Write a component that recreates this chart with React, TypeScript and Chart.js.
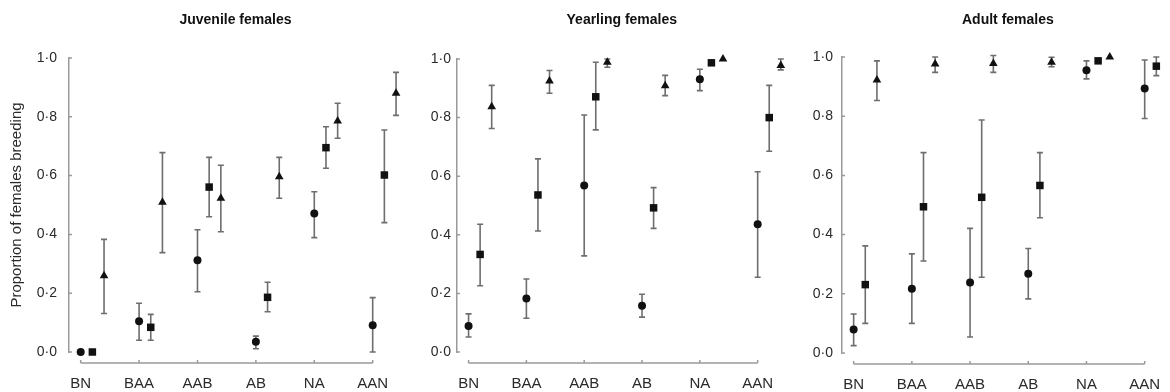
import React, { useEffect, useRef } from "react";
import { Chart, registerables } from "chart.js";

Chart.register(...registerables);

// ---------- DATA ----------
const categories = ["BN", "BAA", "AAB", "AB", "NA", "AAN"];
const panelTitles = ["Juvenile females", "Yearling females", "Adult females"];
const yTitle = "Proportion of females breeding";
const yTicks = [0, 0.2, 0.4, 0.6, 0.8, 1.0];

// Juvenile females: circle (A), square (B), triangle (C)
const juvA = [0.0, 0.105, 0.312, 0.035, 0.471, 0.091];
const juvALo = [null, 0.04, 0.205, 0.011, 0.389, 0.0];
const juvAHi = [null, 0.166, 0.416, 0.054, 0.545, 0.185];
const juvB = [0.0, 0.084, 0.561, 0.186, 0.695, 0.602];
const juvBLo = [null, 0.04, 0.46, 0.137, 0.625, 0.44];
const juvBHi = [null, 0.128, 0.662, 0.237, 0.766, 0.755];
const juvC = [0.259, 0.509, 0.523, 0.596, 0.786, 0.88];
const juvCLo = [0.131, 0.338, 0.409, 0.523, 0.727, 0.805];
const juvCHi = [0.383, 0.678, 0.635, 0.662, 0.846, 0.951];

// Yearling females
const yrlA = [0.089, 0.183, 0.568, 0.158, 0.931, 0.436];
const yrlALo = [0.051, 0.115, 0.328, 0.119, 0.892, 0.255];
const yrlAHi = [0.13, 0.249, 0.809, 0.197, 0.965, 0.615];
const yrlB = [0.333, 0.536, 0.871, 0.492, 0.987, 0.8];
const yrlBLo = [0.226, 0.413, 0.758, 0.422, null, 0.685];
const yrlBHi = [0.436, 0.659, 0.989, 0.561, null, 0.91];
const yrlC = [0.837, 0.925, 0.989, 0.909, 1.0, 0.978];
const yrlCLo = [0.763, 0.883, 0.972, 0.875, null, 0.963];
const yrlCHi = [0.91, 0.961, 1.0, 0.944, null, 1.0];

// Adult females
const adtA = [0.079, 0.217, 0.238, 0.268, 0.955, 0.894];
const adtALo = [0.025, 0.1, 0.054, 0.183, 0.926, 0.792];
const adtAHi = [0.132, 0.335, 0.421, 0.353, 0.987, 0.99];
const adtB = [0.231, 0.494, 0.526, 0.566, 0.987, 0.969];
const adtBLo = [0.1, 0.311, 0.256, 0.457, null, 0.937];
const adtBHi = [0.362, 0.677, 0.787, 0.677, null, 1.0];
const adtC = [0.922, 0.976, 0.978, 0.982, 1.0, null];
const adtCLo = [0.853, 0.948, 0.948, 0.967, null, null];
const adtCHi = [0.987, 1.0, 1.005, 0.999, null, null];

const panelSeries = [
  [
    [juvA, juvALo, juvAHi],
    [juvB, juvBLo, juvBHi],
    [juvC, juvCLo, juvCHi],
  ],
  [
    [yrlA, yrlALo, yrlAHi],
    [yrlB, yrlBLo, yrlBHi],
    [yrlC, yrlCLo, yrlCHi],
  ],
  [
    [adtA, adtALo, adtAHi],
    [adtB, adtBLo, adtBHi],
    [adtC, adtCLo, adtCHi],
  ],
];

// ---------- STYLE / LAYOUT ----------
const FONT = "'Liberation Sans', Arial, Helvetica, sans-serif";
const AXIS_COLOR = "#9a9a9a";
const ERR_COLOR = "#6e6e6e";
const MARK_COLOR = "#111";
const TEXT_COLOR = "#2a2a2a";
const markerStyles = [
  { pointStyle: "circle", radius: 4 },
  { pointStyle: "rect", radius: 5.3 },
  { pointStyle: "triangle", radius: 5 },
];
const groupOffsets = [0, 0.2, 0.4];

const layouts = [
  { left: 0, width: 412, yW: 69, tickPad: 12, titleBottom: 29.6, xH: 40, showYTitle: true },
  { left: 413, width: 384, yW: 44, tickPad: 6, titleBottom: 30.6, xH: 40, showYTitle: false },
  { left: 797, width: 387, yW: 45, tickPad: 9, titleBottom: 28.6, xH: 39, showYTitle: false },
];

const errorBarsPlugin = {
  id: "errorBars",
  beforeDatasetsDraw(chart: any) {
    const { ctx } = chart;
    const xs = chart.scales.x;
    const ys = chart.scales.y;
    ctx.save();
    ctx.strokeStyle = ERR_COLOR;
    ctx.lineWidth = 1.6;
    chart.data.datasets.forEach((ds: any) => {
      ds.data.forEach((p: any, i: number) => {
        const lo = ds.errLo[i];
        const hi = ds.errHi[i];
        if (p.y == null || lo == null || hi == null) return;
        const px = xs.getPixelForValue(p.x);
        const yl = ys.getPixelForValue(lo);
        const yh = ys.getPixelForValue(hi);
        ctx.beginPath();
        ctx.moveTo(px, yl);
        ctx.lineTo(px, yh);
        ctx.moveTo(px - 3, yl);
        ctx.lineTo(px + 3, yl);
        ctx.moveTo(px - 3, yh);
        ctx.lineTo(px + 3, yh);
        ctx.stroke();
      });
    });
    ctx.restore();
  },
};

const axisDecorPlugin = {
  id: "axisDecor",
  afterDraw(chart: any) {
    const { ctx, chartArea } = chart;
    const xs = chart.scales.x;
    const ys = chart.scales.y;
    ctx.save();
    ctx.strokeStyle = AXIS_COLOR;
    ctx.lineWidth = 1.5;
    const yl = chartArea.bottom + 11;
    const x0 = xs.getPixelForValue(0);
    const x1 = xs.getPixelForValue(categories.length - 1);
    ctx.beginPath();
    ctx.moveTo(x0, yl);
    ctx.lineTo(x1, yl);
    categories.forEach((_, i) => {
      const px = xs.getPixelForValue(i);
      ctx.moveTo(px, yl);
      ctx.lineTo(px, yl - 3);
    });
    yTicks.forEach((v) => {
      const py = ys.getPixelForValue(v);
      ctx.moveTo(chartArea.left, py);
      ctx.lineTo(chartArea.left + 3, py);
    });
    ctx.stroke();
    ctx.restore();
  },
};

function makeConfig(pi: number): any {
  const lay = layouts[pi];
  const datasets = panelSeries[pi].map(([mean, lo, hi], si) => ({
    label: "s" + si,
    data: mean.map((v, ci) => ({ x: ci + groupOffsets[si], y: v })),
    errLo: lo,
    errHi: hi,
    pointStyle: markerStyles[si].pointStyle,
    pointRadius: markerStyles[si].radius,
    pointBackgroundColor: MARK_COLOR,
    pointBorderColor: MARK_COLOR,
    pointBorderWidth: 0,
    showLine: false,
    clip: false,
  }));
  return {
    type: "scatter",
    data: { datasets },
    plugins: [errorBarsPlugin, axisDecorPlugin],
    options: {
      animation: false,
      responsive: false,
      devicePixelRatio: 1,
      layout: { padding: 0 },
      plugins: {
        legend: { display: false },
        tooltip: { enabled: false },
        title: {
          display: true,
          text: panelTitles[pi],
          fullSize: false,
          color: "#111",
          font: { family: FONT, size: 14, weight: "bold" },
          padding: { top: 11.6, bottom: lay.titleBottom },
        },
      },
      scales: {
        x: {
          type: "linear",
          min: -0.2,
          max: 5.5,
          afterFit: (s: any) => {
            s.height = lay.xH;
          },
          afterBuildTicks: (s: any) => {
            s.ticks = categories.map((_, i) => ({ value: i }));
          },
          border: { display: false },
          grid: { display: false, drawTicks: false },
          ticks: {
            autoSkip: false,
            maxRotation: 0,
            padding: 23,
            color: TEXT_COLOR,
            font: { family: FONT, size: 15 },
            callback: (v: any) => categories[Math.round(Number(v))] ?? "",
          },
        },
        y: {
          type: "linear",
          min: 0,
          max: 1,
          afterFit: (s: any) => {
            s.width = lay.yW;
          },
          afterBuildTicks: (s: any) => {
            s.ticks = yTicks.map((v) => ({ value: v }));
          },
          border: { display: true, color: AXIS_COLOR, width: 1.5 },
          grid: { display: false, drawTicks: false },
          ticks: {
            padding: lay.tickPad,
            color: TEXT_COLOR,
            font: { family: FONT, size: 14 },
            callback: (v: any) => Number(v).toFixed(1).replace(".", "\u00b7"),
          },
          title: {
            display: lay.showYTitle,
            text: yTitle,
            color: TEXT_COLOR,
            font: { family: FONT, size: 15 },
            padding: { top: 8, bottom: 0 },
          },
        },
      },
    },
  };
}

export default function App() {
  const r0 = useRef<HTMLCanvasElement | null>(null);
  const r1 = useRef<HTMLCanvasElement | null>(null);
  const r2 = useRef<HTMLCanvasElement | null>(null);
  const refs = [r0, r1, r2];

  useEffect(() => {
    Chart.defaults.font.family = FONT;
    const charts = refs.map((r, i) => new Chart(r.current as HTMLCanvasElement, makeConfig(i)));
    return () => charts.forEach((c) => c.destroy());
  }, []);

  return (
    <div
      style={{
        position: "absolute",
        left: 0,
        top: 0,
        width: 1170,
        height: 392,
        overflow: "hidden",
        background: "#fff",
      }}
    >
      {layouts.map((lay, i) => (
        <canvas
          key={i}
          ref={refs[i]}
          width={lay.width}
          height={392}
          style={{ position: "absolute", left: lay.left, top: 0, width: lay.width, height: 392 }}
        />
      ))}
    </div>
  );
}
